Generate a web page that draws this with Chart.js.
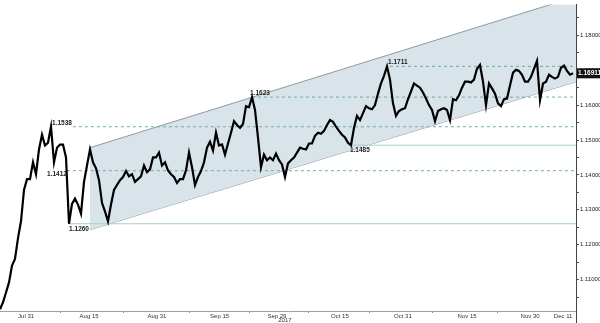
<!DOCTYPE html>
<html>
<head>
<meta charset="utf-8">
<script src="https://cdn.jsdelivr.net/npm/chart.js@4.4.1/dist/chart.umd.min.js"></script>
<style>
  html, body { margin: 0; padding: 0; background: #fff; }
  #wrap { position: relative; width: 600px; height: 323px; }
</style>
</head>
<body>
<div id="wrap"><canvas id="chart"></canvas></div>
<script>
// EUR/USD closes, one bar every ~8 hours
const closes = [
  1.1015, 1.1035, 1.1063, 1.1092, 1.1140, 1.1159, 1.1219, 1.1267, 1.1357, 1.1388,
  1.1388, 1.1436, 1.1402, 1.1473, 1.1515, 1.1484, 1.1492, 1.1538, 1.1436, 1.1478,
  1.1487, 1.1487, 1.1450, 1.1260, 1.1317, 1.1332, 1.1315, 1.1289, 1.1380, 1.1427,
  1.1473, 1.1436, 1.1419, 1.1385, 1.1320, 1.1295, 1.1267, 1.1315, 1.1357, 1.1371,
  1.1385, 1.1394, 1.1411, 1.1396, 1.1402, 1.1380, 1.1388, 1.1396, 1.1427, 1.1408,
  1.1416, 1.1450, 1.1450, 1.1464, 1.1427, 1.1436, 1.1413, 1.1402, 1.1394, 1.1377,
  1.1388, 1.1388, 1.1413, 1.1464, 1.1422, 1.1371, 1.1394, 1.1411, 1.1436, 1.1478,
  1.1495, 1.1470, 1.1521, 1.1484, 1.1487, 1.1458, 1.1490, 1.1521, 1.1554, 1.1543,
  1.1535, 1.1546, 1.1597, 1.1594, 1.1623, 1.1586, 1.1507, 1.1422, 1.1458, 1.1442,
  1.1450, 1.1442, 1.1461, 1.1442, 1.1430, 1.1394, 1.1433, 1.1442, 1.1450, 1.1464,
  1.1478, 1.1475, 1.1473, 1.1490, 1.1490, 1.1512, 1.1521, 1.1518, 1.1526, 1.1543,
  1.1557, 1.1552, 1.1538, 1.1526, 1.1515, 1.1507, 1.1492, 1.1485, 1.1535, 1.1569,
  1.1557, 1.1577, 1.1597, 1.1591, 1.1588, 1.1600, 1.1633, 1.1662, 1.1684, 1.1711,
  1.1673, 1.1605, 1.1569, 1.1583, 1.1588, 1.1591, 1.1617, 1.1639, 1.1662, 1.1656,
  1.1650, 1.1636, 1.1619, 1.1600, 1.1586, 1.1554, 1.1583, 1.1588, 1.1591, 1.1586,
  1.1557, 1.1617, 1.1614, 1.1628, 1.1650, 1.1667, 1.1667, 1.1665, 1.1673, 1.1704,
  1.1715, 1.1667, 1.1600, 1.1662, 1.1648, 1.1633, 1.1605, 1.1597, 1.1617, 1.1619,
  1.1656, 1.1693, 1.1701, 1.1698, 1.1687, 1.1667, 1.1667, 1.1681, 1.1704, 1.1727,
  1.1614, 1.1662, 1.1667, 1.1687, 1.1681, 1.1676, 1.1681, 1.1707, 1.1713, 1.1698,
  1.1687, 1.1691
];
const lastPrice = 1.16911;

// date labels and where they fall (in bars)
const dateLabels = ['Jul 31', 'Aug 15', 'Aug 31', 'Sep 15', 'Sep 29', 'Oct 15', 'Oct 31', 'Nov 15', 'Nov 30', 'Dec 11'];
const datePos = [8.7, 29.7, 52.3, 73.2, 92.3, 113.3, 134.3, 155.7, 176.7, 187.7];
const minorDatePos = [20, 41, 63, 83, 102.7, 123.3, 144, 165.7];

// price axis
const priceTicks = [1.11, 1.12, 1.13, 1.14, 1.15, 1.16, 1.17, 1.18];
const priceMin = 1.1010;
const priceMax = 1.1888;

// trend channel: [start bar, end bar], values at those bars
const channelBars = [30, 192];
const channelUpper = [1.1478, 1.1911];
const channelLower = [1.1243, 1.1667];

// horizontal levels (value, first bar)
const pivotLevels = [1.1538, 1.1412, 1.1623, 1.1711];
const pivotFrom = [24.3, 22.3, 84, 130];
const lowLevels = [1.1260, 1.1485];
const lowFrom = [22.7, 116.3];

const lastBar = 192;

Chart.defaults.font.family = '"Liberation Sans", Arial, sans-serif';

const levelSets = [];
pivotLevels.forEach((lv, i) => {
  levelSets.push({
    data: [{ x: pivotFrom[i], y: lv }, { x: lastBar, y: lv }],
    borderColor: '#6faea2',
    borderWidth: 1,
    borderDash: [3, 3],
    pointRadius: 0,
    order: 3
  });
});
lowLevels.forEach((lv, i) => {
  levelSets.push({
    data: [{ x: lowFrom[i], y: lv }, { x: lastBar, y: lv }],
    borderColor: '#a9d1c9',
    borderWidth: 1,
    pointRadius: 0,
    order: 3
  });
});

// level labels, last price tag, year under the axis
const annotate = {
  id: 'annotate',
  afterDatasetsDraw(chart) {
    const { ctx, scales: { x, y } } = chart;
    ctx.save();
    ctx.font = 'bold 6.5px "Liberation Sans", Arial, sans-serif';
    ctx.fillStyle = '#222';
    ctx.textBaseline = 'middle';
    pivotLevels.forEach((lv, i) => {
      const px = x.getPixelForValue(pivotFrom[i]);
      const py = y.getPixelForValue(lv);
      if (lv === 1.1412) {
        ctx.textAlign = 'right';
        ctx.fillText(lv.toFixed(4), px, py + 3);
      } else {
        ctx.textAlign = lv === 1.1538 ? 'right' : 'left';
        ctx.fillText(lv.toFixed(4), lv === 1.1538 ? px - 1 : px - 2, py - 4);
      }
    });
    lowLevels.forEach((lv, i) => {
      const px = x.getPixelForValue(lowFrom[i]);
      const py = y.getPixelForValue(lv);
      ctx.textAlign = 'left';
      ctx.fillText(lv.toFixed(4), px + 1, py + 5);
    });

    // last price box
    const ly = y.getPixelForValue(lastPrice);
    const lx = x.right + 1;
    ctx.fillStyle = '#111';
    ctx.fillRect(lx, ly - 5, 600 - lx, 10);
    ctx.fillStyle = '#fff';
    ctx.textAlign = 'left';
    ctx.fillText(lastPrice.toFixed(5), lx + 1, ly);

    // year
    ctx.font = '6px "Liberation Sans", Arial, sans-serif';
    ctx.fillStyle = '#333';
    ctx.textAlign = 'center';
    ctx.fillText('2017', x.getPixelForValue(datePos[4]) + 8, 320);

    // axis line runs into the date row
    ctx.strokeStyle = '#444';
    ctx.lineWidth = 1;
    ctx.beginPath();
    ctx.moveTo(x.right + 0.5, y.bottom);
    ctx.lineTo(x.right + 0.5, 323);
    ctx.stroke();
    ctx.restore();
  }
};

new Chart(document.getElementById('chart'), {
  type: 'line',
  data: {
    datasets: [
      {
        data: closes.map((v, i) => ({ x: i, y: v })),
        borderColor: '#000',
        borderWidth: 2.2,
        pointRadius: 0,
        tension: 0,
        order: 0
      },
      {
        data: [{ x: channelBars[0], y: channelUpper[0] }, { x: channelBars[1], y: channelUpper[1] }],
        borderColor: '#8d9aa3',
        borderWidth: 1,
        pointRadius: 0,
        fill: '+1',
        backgroundColor: 'rgb(216, 227, 234)',
        order: 5
      },
      {
        data: [{ x: channelBars[0], y: channelLower[0] }, { x: channelBars[1], y: channelLower[1] }],
        borderColor: '#8d9aa3',
        borderWidth: 1,
        pointRadius: 0,
        order: 5
      },
      ...levelSets
    ]
  },
  options: {
    responsive: true,
    maintainAspectRatio: false,
    animation: false,
    layout: { padding: 0 },
    plugins: {
      legend: { display: false },
      tooltip: { enabled: false }
    },
    scales: {
      x: {
        type: 'linear',
        min: 0,
        max: lastBar,
        afterBuildTicks: scale => {
          scale.ticks = datePos.concat(minorDatePos).sort((a, b) => a - b).map(v => ({ value: v }));
        },
        afterFit: scale => { scale.height = 12; },
        ticks: {
          autoSkip: false,
          maxRotation: 0,
          padding: 0,
          color: '#333',
          font: { size: 6 },
          callback: v => {
            const k = datePos.indexOf(v);
            return k >= 0 ? dateLabels[k] : '';
          }
        },
        grid: {
          drawOnChartArea: false,
          tickLength: 2,
          tickColor: c => (c.tick && datePos.indexOf(c.tick.value) >= 0) ? 'rgba(0,0,0,0)' : '#888'
        },
        border: { display: true, color: '#a0a0a0' }
      },
      y: {
        position: 'right',
        min: priceMin,
        max: priceMax,
        afterBuildTicks: scale => {
          const t = [];
          priceTicks.forEach(v => { t.push({ value: v }); t.push({ value: +(v + 0.005).toFixed(3) }); });
          t.unshift({ value: 1.105 });
          scale.ticks = t;
        },
        afterFit: scale => { scale.width = 24; },
        ticks: {
          padding: 1,
          color: '#222',
          font: { size: 6 },
          callback: v => priceTicks.some(p => Math.abs(p - v) < 1e-6) ? v.toFixed(5) : ''
        },
        grid: {
          drawOnChartArea: false,
          tickLength: 3,
          tickColor: '#555'
        },
        border: { display: true, color: '#444' }
      }
    }
  },
  plugins: [annotate]
});
</script>
</body>
</html>
